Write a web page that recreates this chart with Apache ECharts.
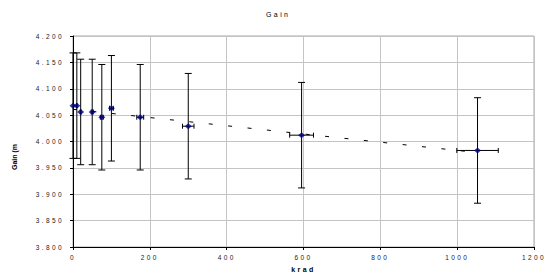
<!DOCTYPE html>
<html>
<head>
<meta charset="utf-8">
<script src="https://cdn.jsdelivr.net/npm/echarts@6/dist/echarts.min.js"></script>
<style>
  html, body { margin: 0; padding: 0; background: #fff; }
  #chart { width: 546px; height: 278px; }
  /* the original renders its small text widely spaced */
  #chart text { letter-spacing: 2.4px; }
  #chart text[style*="7.01px"] { letter-spacing: 0; }
</style>
</head>
<body>
<div id="chart"></div>
<script>
// data
const krad = [0, 10, 20, 50, 75, 100, 175, 300, 595, 1053]
const gain = [4.068, 4.068, 4.056, 4.056, 4.046, 4.063, 4.046, 4.029, 4.012, 3.983]
const kradErr = [0, 0.5, 1, 2.5, 3.75, 5, 9, 15, 31, 54]
const gainErr = [0.1, 0.1, 0.1, 0.1, 0.1, 0.1, 0.1, 0.1, 0.1, 0.1]
// dashed linear trend, end points
const trendKrad = [0, 1053]
const trendGain = [4.061, 3.979]

const FONT = 'Liberation Sans, Arial, sans-serif'

const chart = echarts.init(document.getElementById('chart'), null, { renderer: 'svg' })

function renderErr(params, api) {
  const x = api.value(0)
  const y = api.value(1)
  const ex = api.value(2)
  const ey = api.value(3)
  const top = api.coord([x, y + ey])
  const bot = api.coord([x, y - ey])
  const lft = api.coord([x - ex, y])
  const rgt = api.coord([x + ex, y])
  const st = { stroke: '#000', lineWidth: 1 }
  const kids = [
    { type: 'line', shape: { x1: top[0], y1: top[1], x2: bot[0], y2: bot[1] }, style: st },
    { type: 'line', shape: { x1: top[0] - 3.5, y1: top[1], x2: top[0] + 3.5, y2: top[1] }, style: st },
    { type: 'line', shape: { x1: bot[0] - 3.5, y1: bot[1], x2: bot[0] + 3.5, y2: bot[1] }, style: st }
  ]
  if (ex > 0) {
    kids.push(
      { type: 'line', shape: { x1: lft[0], y1: lft[1], x2: rgt[0], y2: rgt[1] }, style: st },
      { type: 'line', shape: { x1: lft[0], y1: lft[1] - 2.5, x2: lft[0], y2: lft[1] + 2.5 }, style: st },
      { type: 'line', shape: { x1: rgt[0], y1: rgt[1] - 2.5, x2: rgt[0], y2: rgt[1] + 2.5 }, style: st }
    )
  }
  return { type: 'group', children: kids }
}

chart.setOption({
  animation: false,
  grid: {
    left: 73, right: 12, top: 36, bottom: 29,
    show: true, borderColor: '#a8a8a8', borderWidth: 1
  },
  xAxis: {
    type: 'value',
    min: 0, max: 1200, interval: 200,
    name: 'krad',
    nameLocation: 'middle',
    nameGap: 19,
    nameTextStyle: { fontSize: 7, fontWeight: 'bold', color: '#000', fontFamily: FONT },
    axisLine: { lineStyle: { color: '#000', width: 1 } },
    axisTick: { show: true, length: 3, lineStyle: { color: '#000' } },
    axisLabel: { fontSize: 6.5, color: '#222', margin: 7, fontFamily: FONT, formatter: v => String(v) },
    splitLine: { lineStyle: { color: '#c4c4c4', width: 1 } }
  },
  yAxis: {
    type: 'value',
    min: 3.8, max: 4.2, interval: 0.05,
    axisLine: { show: true, onZero: false, lineStyle: { color: '#000', width: 1 } },
    axisTick: { show: true, length: 3, lineStyle: { color: '#000' } },
    axisLabel: {
      fontSize: 6.5, color: '#222', margin: 9, fontFamily: FONT,
      formatter: v => v.toFixed(3)
    },
    splitLine: { lineStyle: { color: '#c4c4c4', width: 1 } }
  },
  graphic: [
    {
      type: 'text',
      x: 266, y: 14.5,
      style: {
        text: 'Gain',
        font: '7px Liberation Sans',
        fill: '#000',
        align: 'left',
        verticalAlign: 'middle'
      }
    },
    {
      type: 'text',
      x: 14.5, y: 157,
      rotation: Math.PI / 2,
      style: {
        text: 'Gain (m',
        font: 'bold 7.01px Liberation Sans',
        fill: '#000',
        align: 'center',
        verticalAlign: 'middle'
      }
    }
  ],
  series: [
    {
      type: 'line',
      data: trendKrad.map((k, i) => [k, trendGain[i]]),
      showSymbol: false,
      lineStyle: { color: '#000', width: 1, type: [4, 15.5] },
      z: 1
    },
    {
      type: 'custom',
      renderItem: renderErr,
      data: krad.map((k, i) => [k, gain[i], kradErr[i], gainErr[i]]),
      encode: { x: 0, y: 1 },
      z: 2
    },
    {
      type: 'scatter',
      data: krad.map((k, i) => [k, gain[i]]),
      symbol: 'diamond',
      symbolSize: [7, 6],
      itemStyle: { color: '#000080' },
      z: 3
    }
  ]
})
</script>
</body>
</html>
